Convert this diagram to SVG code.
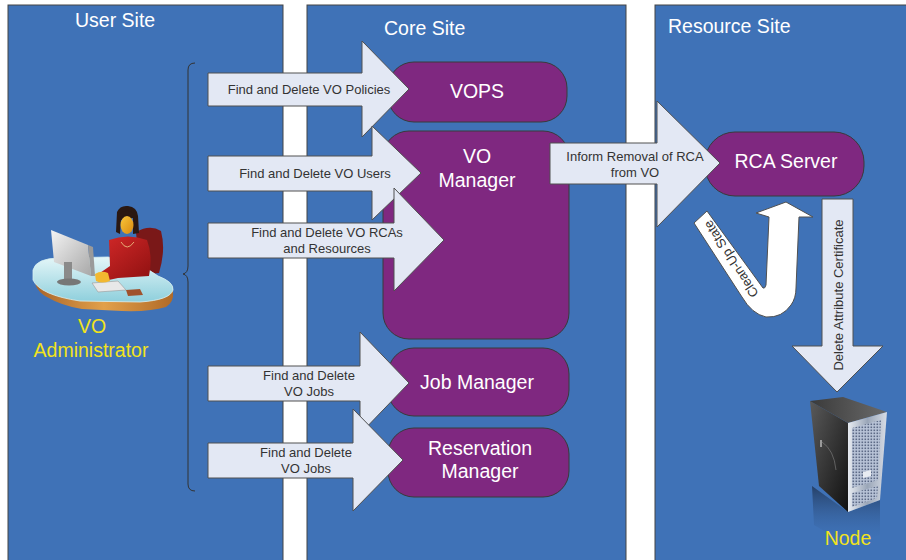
<svg xmlns="http://www.w3.org/2000/svg" width="906" height="560" viewBox="0 0 906 560">
<defs>
<style>
.panel{fill:#3f72b7;stroke:#444;stroke-width:1}
.title{font-family:"Liberation Sans",Arial,sans-serif;font-size:19.5px;fill:#ffffff}
.box{fill:#7f2880;stroke:#3a3a3a;stroke-width:1}
.nlabel{font-family:"Liberation Sans",Arial,sans-serif;font-size:19.5px;fill:#ffffff;text-anchor:middle}
.arrow{fill:#e3e8f4;stroke:#505050;stroke-width:1}
.alabel{font-family:"Liberation Sans",Arial,sans-serif;font-size:13px;fill:#333333;text-anchor:middle}
.ylabel{font-family:"Liberation Sans",Arial,sans-serif;font-size:19.5px;fill:#f2e31c;text-anchor:middle}
</style>
<linearGradient id="deskTop" x1="0" y1="0" x2="0" y2="1">
<stop offset="0" stop-color="#e4f6f8"/><stop offset="1" stop-color="#8ecfdc"/>
</linearGradient>
<linearGradient id="deskEdge" x1="0" y1="0" x2="1" y2="0">
<stop offset="0" stop-color="#a8642a"/><stop offset="0.5" stop-color="#e2a04a"/><stop offset="1" stop-color="#b06a28"/>
</linearGradient>
<linearGradient id="mon" x1="0" y1="0" x2="1" y2="1">
<stop offset="0" stop-color="#f4f4f4"/><stop offset="1" stop-color="#a8a8a8"/>
</linearGradient>
<linearGradient id="shirt" x1="0" y1="0" x2="1" y2="1">
<stop offset="0" stop-color="#d62a2a"/><stop offset="1" stop-color="#8e1010"/>
</linearGradient>
<linearGradient id="face" x1="0" y1="0" x2="1" y2="1">
<stop offset="0" stop-color="#f9c63a"/><stop offset="1" stop-color="#d98a10"/>
</linearGradient>
<linearGradient id="srvSide" x1="0" y1="0" x2="1" y2="1">
<stop offset="0" stop-color="#5a5a5a"/><stop offset="1" stop-color="#111111"/>
</linearGradient>
<linearGradient id="srvTop" x1="0" y1="0" x2="1" y2="0">
<stop offset="0" stop-color="#3a3a3a"/><stop offset="1" stop-color="#6a6a6a"/>
</linearGradient>
<linearGradient id="srvFront" x1="0" y1="0" x2="1" y2="0">
<stop offset="0" stop-color="#e8ecf2"/><stop offset="0.5" stop-color="#9aa6b8"/><stop offset="1" stop-color="#d8dde6"/>
</linearGradient>
<linearGradient id="srvRefl" x1="0" y1="0" x2="0" y2="1">
<stop offset="0" stop-color="#1a2a44" stop-opacity="0.7"/><stop offset="1" stop-color="#3f72b7" stop-opacity="0"/>
</linearGradient>
<pattern id="perf" width="3" height="3" patternUnits="userSpaceOnUse">
<rect width="3" height="3" fill="#b9c4d8"/><rect x="0.5" y="0.5" width="1.6" height="1.6" fill="#5d6a86"/>
</pattern>
</defs>

<rect width="906" height="560" fill="#ffffff"/>

<g id="panels">
<rect class="panel" x="8" y="5" width="275" height="560"/>
<rect class="panel" x="307" y="5" width="319" height="560"/>
<rect class="panel" x="655" y="5" width="260" height="560"/>
<text class="title" x="75" y="27">User Site</text>
<text class="title" x="384" y="35">Core Site</text>
<text class="title" x="668" y="33">Resource Site</text>
</g>

<g id="brace">
<path d="M195,63 Q188,63 188,70 V266 Q188,273 183,274 Q188,275 188,282 V484 Q188,491 195,491" fill="none" stroke="#333" stroke-width="1"/>
</g>

<g id="vops">
<rect class="box" x="388" y="62" width="179" height="60" rx="26" ry="26"/>
<text class="nlabel" x="477" y="98">VOPS</text>
</g>

<g id="vo-manager">
<rect class="box" x="383" y="131" width="186" height="208" rx="26" ry="26"/>
<text class="nlabel" x="477" y="163">VO</text>
<text class="nlabel" x="477" y="187">Manager</text>
</g>

<g id="job-manager">
<rect class="box" x="388" y="348" width="181" height="68" rx="26" ry="26"/>
<text class="nlabel" x="477" y="389">Job Manager</text>
</g>

<g id="reservation-manager">
<rect class="box" x="388" y="428" width="181" height="69" rx="26" ry="26"/>
<text class="nlabel" x="480" y="455">Reservation</text>
<text class="nlabel" x="480" y="478">Manager</text>
</g>

<g id="rca-server">
<rect class="box" x="705" y="132" width="159" height="64" rx="30" ry="30"/>
<text class="nlabel" x="786" y="168">RCA Server</text>
</g>

<g id="vo-administrator">
<path d="M136,232 Q150,224 161,231 Q166,250 159,273 L140,275 Z" fill="#7a1818"/>
<path d="M35,276 Q33,288 45,296 Q62,306 82,309 L122,311 Q150,312 166,307 Q174,302 173,292 L173,286 Q168,296 140,299 L80,298 Q42,292 35,276 Z" fill="url(#deskEdge)"/>
<path d="M33,270 Q36,258 60,258 L108,257 Q140,262 158,276 Q174,282 173,290 Q170,300 140,302 L80,301 Q40,295 33,280 Z" fill="url(#deskTop)" stroke="#d8f0f4" stroke-width="0.8"/>
<path d="M51,230 L88,245 L91,276 L54,262 Z" fill="url(#mon)"/>
<path d="M88,245 L93,247 L95,276 L91,276 Z" fill="#9a9a9a"/>
<rect x="64" y="262" width="8" height="18" fill="#8a8a8a"/>
<ellipse cx="69" cy="282" rx="12" ry="3.5" fill="#777"/>
<path d="M92,283 L118,281 L126,290 L98,292 Z" fill="#e8e8e8" stroke="#999" stroke-width="0.6"/>
<path d="M109,240 Q128,233 147,240 Q153,256 149,276 L118,278 L104,281 L97,275 L110,266 Z" fill="url(#shirt)"/>
<path d="M95,274 Q101,270 108,273 L110,281 Q102,284 96,281 Z" fill="#f2b830"/>
<path d="M117,212 Q120,205 128,206 Q137,207 138,216 L139,233 L133,234 L133,218 L121,220 L120,234 L116,232 Z" fill="#2a1812"/>
<ellipse cx="127" cy="225" rx="6.5" ry="9" fill="url(#face)"/>
<path d="M120,218 Q127,212 134,218 L134,214 Q127,207 120,214 Z" fill="#2a1812"/>
<path d="M121,242 Q127,252 134,242" fill="none" stroke="#f0d08a" stroke-width="0.8"/>
<path d="M126,290 L140,289 L143,295 L128,296 Z" fill="#a0522d"/>
<text class="ylabel" x="92" y="333">VO</text>
<text class="ylabel" x="91" y="357">Administrator</text>
</g>

<g id="node">
<path d="M812,486 L848,512 L880,500 L880,535 L848,545 L814,525 Z" fill="url(#srvRefl)"/>
<path d="M810,401 L848,423 L848,512 L819,486 Z" fill="url(#srvSide)"/>
<path d="M810,401 L843,397 L887,412 L848,423 Z" fill="url(#srvTop)"/>
<path d="M848,423 L887,412 L880,500 L848,512 Z" fill="url(#srvFront)"/>
<path d="M852,428 L881,420 L878,480 L852,488 Z" fill="url(#perf)"/>
<path d="M852,493 L878,486 L877,498 L852,507 Z" fill="url(#perf)"/>
<path d="M863,472 L871,470 L871,476 L863,478 Z" fill="#e8ecf2"/>
<path d="M822,442 Q834,450 836,470" fill="none" stroke="#777" stroke-width="0.7"/>
<rect x="820" y="440" width="2" height="7" fill="#999"/>
<text class="ylabel" x="848" y="545">Node</text>
</g>

<g id="connectors">
<g id="arrow-policies">
<path class="arrow" d="M208,73 H362 V41 L409,89 L362,137 V106 H208 Z"/>
<text class="alabel" x="309" y="94">Find and Delete VO Policies</text>
</g>
<g id="arrow-users">
<path class="arrow" d="M208,156 H372 V126 L421,173 L372,220 V191 H208 Z"/>
<text class="alabel" x="315" y="178">Find and Delete VO Users</text>
</g>
<g id="arrow-rcas">
<path class="arrow" d="M208,223 H394 V188 L444,240 L394,291 V258 H208 Z"/>
<text class="alabel" x="327" y="237">Find and Delete VO RCAs</text>
<text class="alabel" x="327" y="253">and Resources</text>
</g>
<g id="arrow-jobs">
<path class="arrow" d="M208,366 H360 V332 L409,383 L360,434 V401 H208 Z"/>
<text class="alabel" x="309" y="380">Find and Delete</text>
<text class="alabel" x="309" y="396">VO Jobs</text>
</g>
<g id="arrow-reservations">
<path class="arrow" d="M208,443 H353 V409 L403,460 L353,511 V478 H208 Z"/>
<text class="alabel" x="306" y="457">Find and Delete</text>
<text class="alabel" x="306" y="473">VO Jobs</text>
</g>
<g id="arrow-inform">
<path class="arrow" d="M550,143 H657 V101 L720,163 L657,227 V184 H550 Z"/>
<text class="alabel" x="635" y="161">Inform Removal of RCA</text>
<text class="alabel" x="635" y="177">from VO</text>
</g>
<g id="arrow-cleanup">
<path d="M694,223 L742,297 Q752,314 766,317 Q782,318 791,305 Q796,298 796,288 L799,217 L813,217 L786,202 L756,213 L769,217 L766,285 Q765,289 763,288 L707,211 Z" fill="#ffffff" stroke="#505050" stroke-width="1"/>
<text class="alabel" x="731" y="259" dy="0.35em" transform="rotate(-123 731 259)">Clean-Up State</text>
</g>
<g id="arrow-delete-cert">
<path class="arrow" d="M822,199 V346 H792 L837,392 L883,346 H853 V199 Z"/>
<text class="alabel" x="838" y="295" dy="0.35em" transform="rotate(-90 838 295)">Delete Attribute Certificate</text>
</g>
</g>
</svg>
